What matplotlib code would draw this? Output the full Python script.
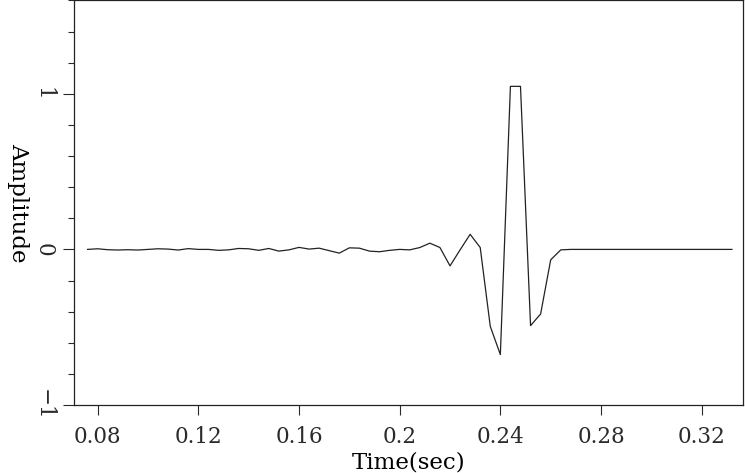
import numpy as np
import matplotlib
matplotlib.use("Agg")
import matplotlib.pyplot as plt
from matplotlib.ticker import MultipleLocator

# sampled trace: first sample time and interval (seconds)
t0 = 0.076
dt = 0.004

amplitude = [
    0.0, 0.004, -0.002, -0.004, -0.002, -0.004, 0.0, 0.004, 0.002, -0.004,
    0.005, 0.0, 0.0, -0.006, -0.003, 0.006, 0.004, -0.006, 0.006, -0.011,
    -0.003, 0.013, 0.002, 0.008, -0.008, -0.024, 0.010, 0.008, -0.011, -0.015,
    -0.006, 0.0, -0.003, 0.012, 0.040, 0.012, -0.106, -0.003, 0.097, 0.012,
    -0.495, -0.676, 1.048, 1.048, -0.490, -0.415, -0.067, -0.003, 0.0, 0.0,
    0.0, 0.0, 0.0, 0.0, 0.0, 0.0, 0.0, 0.0, 0.0, 0.0,
    0.0, 0.0, 0.0, 0.0, 0.0,
]
time = t0 + dt * np.arange(len(amplitude))

x_ticks = [0.08, 0.12, 0.16, 0.2, 0.24, 0.28, 0.32]
x_ticklabels = ["0.08", "0.12", "0.16", "0.2", "0.24", "0.28", "0.32"]
y_ticks = [-1, 0, 1]
y_ticklabels = ["\u22121", "0", "1"]

plt.rcParams["font.family"] = "DejaVu Serif"
plt.rcParams["font.size"] = 15.5
plt.rcParams["text.color"] = "#2a2a2a"
plt.rcParams["xtick.color"] = "#2a2a2a"
plt.rcParams["ytick.color"] = "#2a2a2a"

fig = plt.figure(figsize=(7.45, 4.73), dpi=100)
ax = fig.add_axes([0.0993, 0.1438, 0.8980, 0.8552])

ax.plot(time, amplitude, color="#222222", lw=0.9)

ax.set_xlim(0.0706, 0.3364)
ax.set_ylim(-1.0, 1.6)

ax.set_xticks(x_ticks)
ax.set_xticklabels(x_ticklabels)
ax.set_yticks(y_ticks)
ax.set_yticklabels(y_ticklabels, rotation=-90, va="center")
ax.yaxis.set_minor_locator(MultipleLocator(0.2))

ax.tick_params(axis="x", direction="out", length=7, width=0.8, pad=8)
ax.tick_params(axis="y", which="major", direction="out", length=8, width=0.8, pad=6)
ax.tick_params(axis="y", which="minor", direction="out", length=4, width=0.8)

for s in ax.spines.values():
    s.set_linewidth(0.9)
    s.set_color("#222222")

ax.set_xlabel("Time(sec)", fontsize=16.5, labelpad=3)
ax.set_ylabel("Amplitude", fontsize=16.5, rotation=270, va="top")
ax.yaxis.set_label_coords(-0.0669, 0.5)

fig.savefig("out.png", dpi=100)
